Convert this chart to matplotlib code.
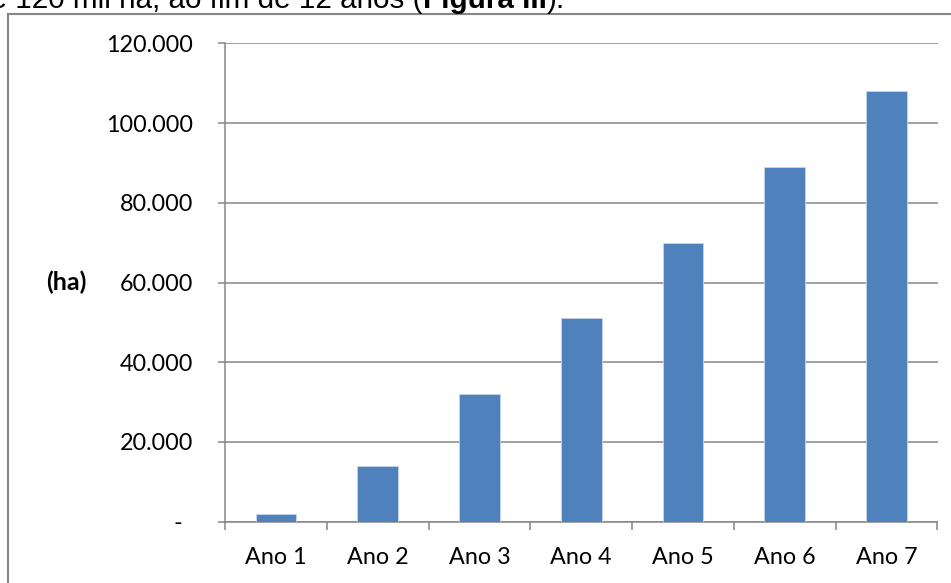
import matplotlib
matplotlib.use("Agg")
import matplotlib.pyplot as plt
from matplotlib.ticker import FuncFormatter, FixedLocator
from matplotlib.transforms import ScaledTranslation
from matplotlib.lines import Line2D

categories = ["Ano 1", "Ano 2", "Ano 3", "Ano 4", "Ano 5", "Ano 6", "Ano 7"]
values = [2000, 14000, 32000, 51000, 70000, 89000, 108000]
yticks = [0, 20000, 40000, 60000, 80000, 100000, 120000]
ylabel = "(ha)"
caption_regular = "de 120 mil ha, ao fim de 12 anos ("
caption_bold = "Figura III"
caption_end = ")."

W, H = 951, 583
DPI = 100
fig = plt.figure(figsize=(W / DPI, H / DPI), dpi=DPI)
fig.patch.set_facecolor("white")

def fx(px):
    return px / W

def fy(py):
    return 1 - py / H

FONT = "Lato"
GRID = "#868686"

# axes area
left, right, top, bottom = 225, 937.5, 43.3, 521.7
ax = fig.add_axes([fx(left), fy(bottom), fx(right) - fx(left), (bottom - top) / H])
x = list(range(len(categories)))
ax.bar(x, values, width=0.4, color="#4F81BD", edgecolor="#C5D5EA", linewidth=0.6, zorder=3)
ax.set_xlim(-0.5, len(categories) - 0.5)
ax.set_ylim(0, 120000)
ax.set_yticks(yticks)

def fmt(v, pos):
    if v == 0:
        return "-"
    return f"{int(v):,}".replace(",", ".")

ax.yaxis.set_major_formatter(FuncFormatter(fmt))
ax.yaxis.grid(True, color=GRID, linewidth=1.1, zorder=0)
ax.set_axisbelow(True)
for s in ["top", "right"]:
    ax.spines[s].set_visible(False)
for s in ["left", "bottom"]:
    ax.spines[s].set_color(GRID)
    ax.spines[s].set_linewidth(1.1)
ax.tick_params(axis="y", length=5.2, width=1.1, color=GRID, pad=18, labelsize=16.8, labelcolor="black")
ax.set_xticks(x)
ax.set_xticklabels(categories)
ax.tick_params(axis="x", which="major", length=0, pad=18, labelsize=16.8, labelcolor="black")
ax.xaxis.set_minor_locator(FixedLocator([i + 0.5 for i in range(-1, len(categories))]))
ax.tick_params(axis="x", which="minor", length=6, width=1.1, color=GRID)
for lab in ax.get_xticklabels() + ax.get_yticklabels():
    lab.set_fontfamily(FONT)
fig.canvas.draw()
for lab, t in zip(ax.get_yticklabels(), ax.get_yticks()):
    if t == 0:
        lab.set_transform(lab.get_transform() + ScaledTranslation(-11 / DPI, 0, fig.dpi_scale_trans))

fig.text(fx(66.5), fy(282), ylabel, fontfamily=FONT, fontweight="bold", fontsize=18,
         ha="center", va="center")

# chart frame (extends beyond image)
fig.add_artist(Line2D([fx(7.5), fx(7.5)], [fy(14), fy(600)], color=GRID, linewidth=1.5,
                      transform=fig.transFigure))
fig.add_artist(Line2D([fx(7.5), fx(960)], [fy(14), fy(14)], color=GRID, linewidth=1.5,
                      transform=fig.transFigure))

# caption line (cut at top, as in the reference)
CFONT = "Liberation Sans"
cs = 21.3
renderer = fig.canvas.get_renderer()
t1 = fig.text(fx(423), fy(7.5), caption_regular, fontfamily=CFONT, fontsize=cs,
              ha="right", va="baseline")
t2 = fig.text(fx(423), fy(7.5), caption_bold, fontfamily=CFONT, fontsize=cs, fontweight="bold",
              ha="left", va="baseline")
fig.canvas.draw()
bb = t2.get_window_extent(renderer)
t3 = fig.text(bb.x1 / W, fy(7.5), caption_end, fontfamily=CFONT, fontsize=cs,
              ha="left", va="baseline")

fig.savefig("out.png", dpi=DPI)
